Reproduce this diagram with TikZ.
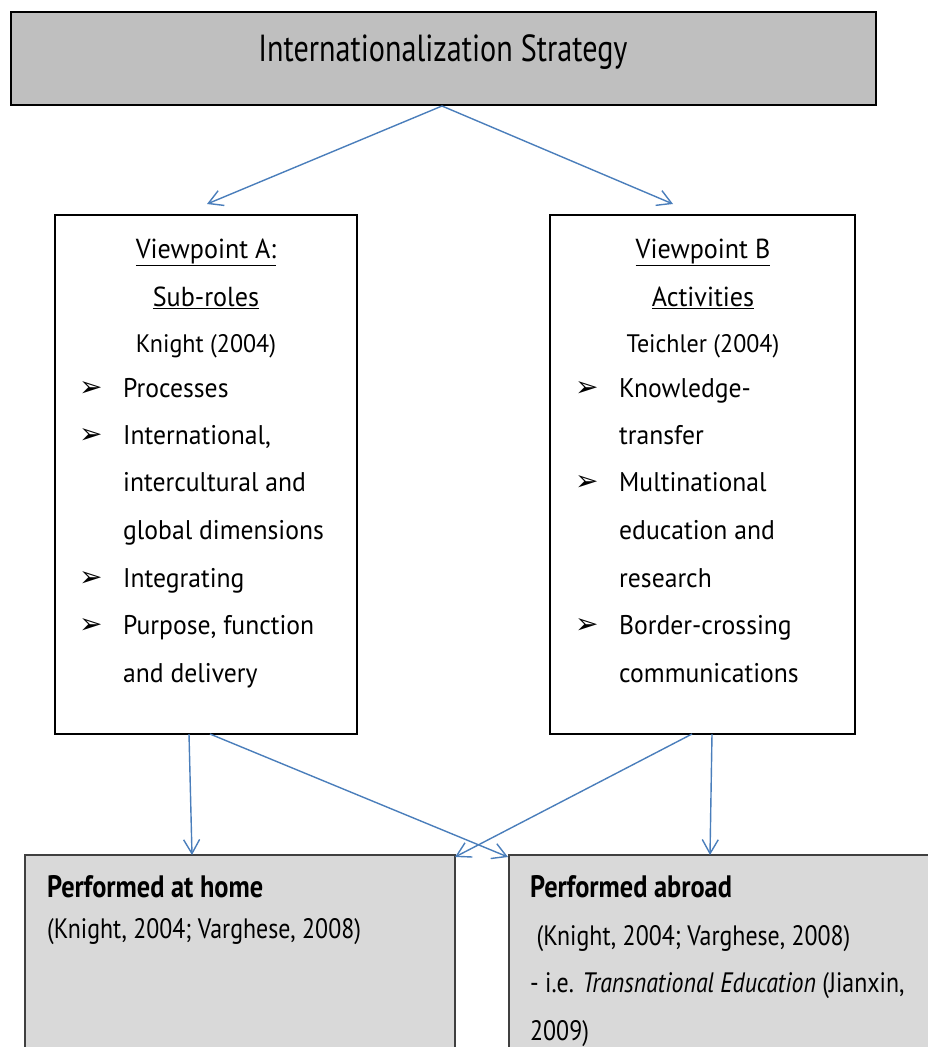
\documentclass[tikz,border=0pt]{standalone}
\usepackage{fontspec}
\setmainfont[FakeStretch=0.95]{PT Sans}
\newfontfamily\titlefont[FakeStretch=0.80]{PT Sans}
\newfontfamily\condfont[FakeStretch=0.85]{PT Sans}
\newfontfamily\symfont{DejaVu Sans}
\usetikzlibrary{arrows.meta}
\definecolor{linkblue}{RGB}{74,126,187}
\definecolor{topgray}{RGB}{191,191,191}
\definecolor{lowgray}{RGB}{217,217,217}
\newcommand{\bul}{{\symfont\fontsize{28}{28}\selectfont ➢}}
\tikzset{
  x=1pt, y=-1pt,
  frame/.style={draw=black, line width=1.2pt},
  lowframe/.style={draw=black!75, line width=1.4pt, fill=lowgray},
  link/.style={draw=linkblue, line width=1.4pt, -{Straight Barb[length=14pt,width=16pt,line width=1.4pt]}},
  txt/.style={inner sep=0pt, anchor=base, font=\fontsize{27.5}{27.5}\selectfont},
  ref/.style={inner sep=0pt, anchor=base, font=\fontsize{25.3}{25.3}\selectfont},
  item/.style={inner sep=0pt, anchor=base west, font=\fontsize{27}{27}\selectfont},
  bulletmark/.style={inner sep=0pt, anchor=base west},
  lowhead/.style={inner sep=0pt, anchor=base west, font=\condfont\bfseries\fontsize{31}{31}\selectfont},
  lowtxt/.style={inner sep=0pt, anchor=base west, font=\condfont\fontsize{28.1}{28.1}\selectfont},
}
\begin{document}
\begin{tikzpicture}
\useasboundingbox (0,0) rectangle (928,1047);
\clip (0,0) rectangle (928,1047);

% top strategy box
\draw[frame, fill=topgray] (11,12) rectangle (876,105);
\node[inner sep=0pt, font=\titlefont\fontsize{37.7}{37.7}\selectfont, anchor=base] (title) at (443,61) {Internationalization Strategy};
\coordinate (topmid) at (442,106);

% viewpoint boxes
\draw[frame] (55,215) rectangle (357,734);
\draw[frame] (550,215) rectangle (855,734);
\coordinate (aTop) at (207,204);
\coordinate (bTop) at (673,204);

% bottom boxes
\draw[lowframe] (25,855) rectangle (455,1060);
\draw[lowframe] (509,855) rectangle (940,1060);

% viewpoint A text
\node[txt] (aHead) at (206,258) {\underline{Viewpoint A:}};
\node[txt] (aSub) at (206,306) {\underline{Sub-roles}};
\node[ref] (aRef) at (206,352) {Knight (2004)};
\foreach \y/\t [count=\i] in {397/Processes, 444/{International,}, 491/{intercultural and}, 539/{global dimensions}, 587/Integrating, 634/{Purpose, function}, 682/{and delivery}}{
  \node[item] (aItem\i) at (123,\y) {\t};
}
\foreach \y [count=\i] in {397,444,587,634}{
  \node[bulletmark] (aMark\i) at (79,\y-1) {\bul};
}

% viewpoint B text
\node[txt] (bHead) at (703,258) {\underline{Viewpoint B}};
\node[txt] (bSub) at (703,306) {\underline{Activities}};
\node[ref] (bRef) at (703,352) {Teichler (2004)};
\foreach \y/\t [count=\i] in {397/Knowledge-, 444/transfer, 491/Multinational, 539/{education and}, 587/research, 634/Border-crossing, 682/communications}{
  \node[item] (bItem\i) at (619,\y) {\t};
}
\foreach \y [count=\i] in {397,491,634}{
  \node[bulletmark] (bMark\i) at (575,\y-1) {\bul};
}

% bottom texts
\node[lowhead] (homeHead) at (47,897) {Performed at home};
\node[lowtxt] (homeRef) at (47,938) {(Knight, 2004; Varghese, 2008)};
\node[lowhead] (awayHead) at (530,897) {Performed abroad};
\node[lowtxt] (awayRef) at (530,945) {\ (Knight, 2004; Varghese, 2008)};
\node[lowtxt] (awayTne) at (530,992) {- i.e. \textit{Transnational Education} (Jianxin,};
\node[lowtxt] (awayYear) at (530,1040) {2009)};

% connectors
\coordinate (aBotL) at (189,734);
\coordinate (aBotR) at (210,734);
\coordinate (bBotL) at (692,734);
\coordinate (bBotR) at (712,734);
\coordinate (homeTop) at (192,855);
\coordinate (homeCorner) at (455,857);
\coordinate (awayCorner) at (508,857);
\coordinate (awayTop) at (710,855);
\draw[link] (topmid) -- (aTop);
\draw[link] (topmid) -- (bTop);
\draw[link] (aBotL) -- (homeTop);
\draw[link] (aBotR) -- (awayCorner);
\draw[link] (bBotL) -- (homeCorner);
\draw[link] (bBotR) -- (awayTop);
\end{tikzpicture}
\end{document}
